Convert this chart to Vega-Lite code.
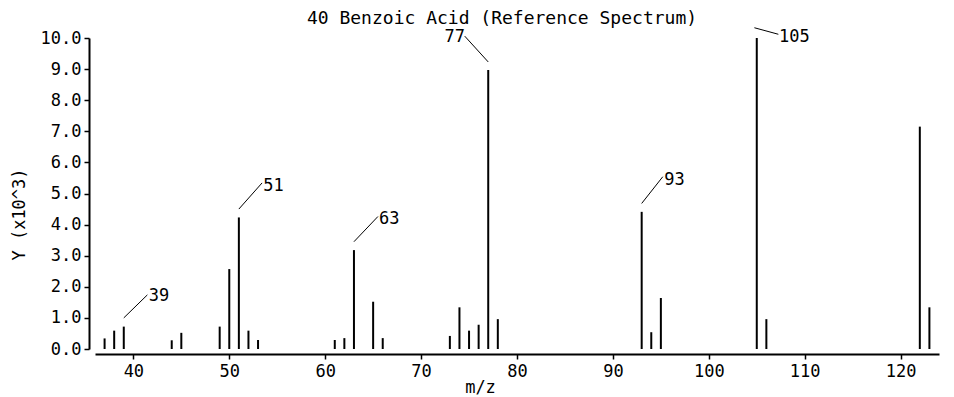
{
  "$schema": "https://vega.github.io/schema/vega-lite/v6.json",
  "width": 844,
  "height": 311,
  "autosize": {"type": "none"},
  "padding": {"left": 95, "top": 38, "right": 15, "bottom": 48},
  "background": "white",
  "config": {
    "view": {"stroke": null},
    "font": "DejaVu Sans Mono",
    "axis": {
      "labelFont": "DejaVu Sans Mono",
      "titleFont": "DejaVu Sans Mono",
      "labelFontSize": 17,
      "titleFontSize": 17,
      "labelColor": "black",
      "titleColor": "black",
      "titleFontWeight": "normal",
      "domainColor": "black",
      "domainWidth": 2,
      "tickColor": "black",
      "tickWidth": 1.5,
      "tickSize": 5,
      "labelOverlap": false,
      "labelFlush": false,
      "grid": false
    }
  },
  "title": {
    "text": "40 Benzoic Acid (Reference Spectrum)",
    "font": "DejaVu Sans Mono",
    "fontSize": 18,
    "fontWeight": "normal",
    "color": "black",
    "anchor": "middle",
    "dx": -15,
    "offset": -1
  },
  "layer": [
    {
      "data": {
        "values": [
          {"mz": 37, "abundance": 0.34},
          {"mz": 38, "abundance": 0.59},
          {"mz": 39, "abundance": 0.72},
          {"mz": 44, "abundance": 0.28},
          {"mz": 45, "abundance": 0.52},
          {"mz": 49, "abundance": 0.72},
          {"mz": 50, "abundance": 2.57},
          {"mz": 51, "abundance": 4.23},
          {"mz": 52, "abundance": 0.59},
          {"mz": 53, "abundance": 0.29},
          {"mz": 61, "abundance": 0.29},
          {"mz": 62, "abundance": 0.35},
          {"mz": 63, "abundance": 3.18},
          {"mz": 65, "abundance": 1.52},
          {"mz": 66, "abundance": 0.35},
          {"mz": 73, "abundance": 0.42},
          {"mz": 74, "abundance": 1.34},
          {"mz": 75, "abundance": 0.59},
          {"mz": 76, "abundance": 0.78},
          {"mz": 77, "abundance": 8.97},
          {"mz": 78, "abundance": 0.96},
          {"mz": 93, "abundance": 4.41},
          {"mz": 94, "abundance": 0.54},
          {"mz": 95, "abundance": 1.64},
          {"mz": 105, "abundance": 10.0},
          {"mz": 106, "abundance": 0.96},
          {"mz": 122, "abundance": 7.15},
          {"mz": 123, "abundance": 1.34}
        ]
      },
      "mark": {"type": "rule", "color": "black", "strokeWidth": 2},
      "encoding": {
        "x": {
          "field": "mz",
          "type": "quantitative",
          "scale": {"domain": [36, 124], "nice": false, "zero": false},
          "axis": {
            "title": "m/z",
            "values": [40, 50, 60, 70, 80, 90, 100, 110, 120],
            "offset": 5,
            "labelPadding": 4,
            "labelOverlap": false,
            "titleX": 385,
            "titleY": 25,
            "titleAnchor": "middle"
          }
        },
        "y": {
          "field": "abundance",
          "type": "quantitative",
          "scale": {"domain": [0, 10], "nice": false, "zero": true},
          "axis": {
            "title": "Y (x10^3)",
            "values": [0, 1, 2, 3, 4, 5, 6, 7, 8, 9, 10],
            "tickCount": 11,
            "format": ".1f",
            "offset": 6,
            "labelPadding": 3,
            "labelOverlap": false,
            "labelSeparation": 0,
            "titleX": -61,
            "titleY": 176,
            "titleAnchor": "middle"
          }
        },
        "y2": {"datum": 0}
      }
    },
    {
      "data": {
        "name": "annotations",
        "values": [
          {"peak": "39", "x1": 39, "y1": 1.0, "x2": 41.46, "y2": 1.74, "lx": 41.6, "ly": 1.7},
          {"peak": "51", "x1": 51, "y1": 4.5, "x2": 53.42, "y2": 5.34, "lx": 53.55, "ly": 5.25},
          {"peak": "63", "x1": 63, "y1": 3.45, "x2": 65.5, "y2": 4.26, "lx": 65.6, "ly": 4.18},
          {"peak": "77", "x1": 77, "y1": 9.23, "x2": 74.55, "y2": 10.06, "lx": 72.45, "ly": 10.02},
          {"peak": "93", "x1": 93, "y1": 4.68, "x2": 95.2, "y2": 5.54, "lx": 95.36, "ly": 5.43},
          {"peak": "105", "x1": 104.75, "y1": 10.33, "x2": 107.25, "y2": 10.12, "lx": 107.33, "ly": 10.02}
        ]
      },
      "layer": [
        {
          "mark": {"type": "rule", "color": "black", "strokeWidth": 1},
          "encoding": {
            "x": {"field": "x1", "type": "quantitative"},
            "y": {"field": "y1", "type": "quantitative"},
            "x2": {"field": "x2"},
            "y2": {"field": "y2"}
          }
        },
        {
          "mark": {"type": "text", "align": "left", "baseline": "middle", "font": "DejaVu Sans Mono", "fontSize": 17, "color": "black"},
          "encoding": {
            "x": {"field": "lx", "type": "quantitative"},
            "y": {"field": "ly", "type": "quantitative"},
            "text": {"field": "peak"}
          }
        }
      ]
    }
  ]
}
